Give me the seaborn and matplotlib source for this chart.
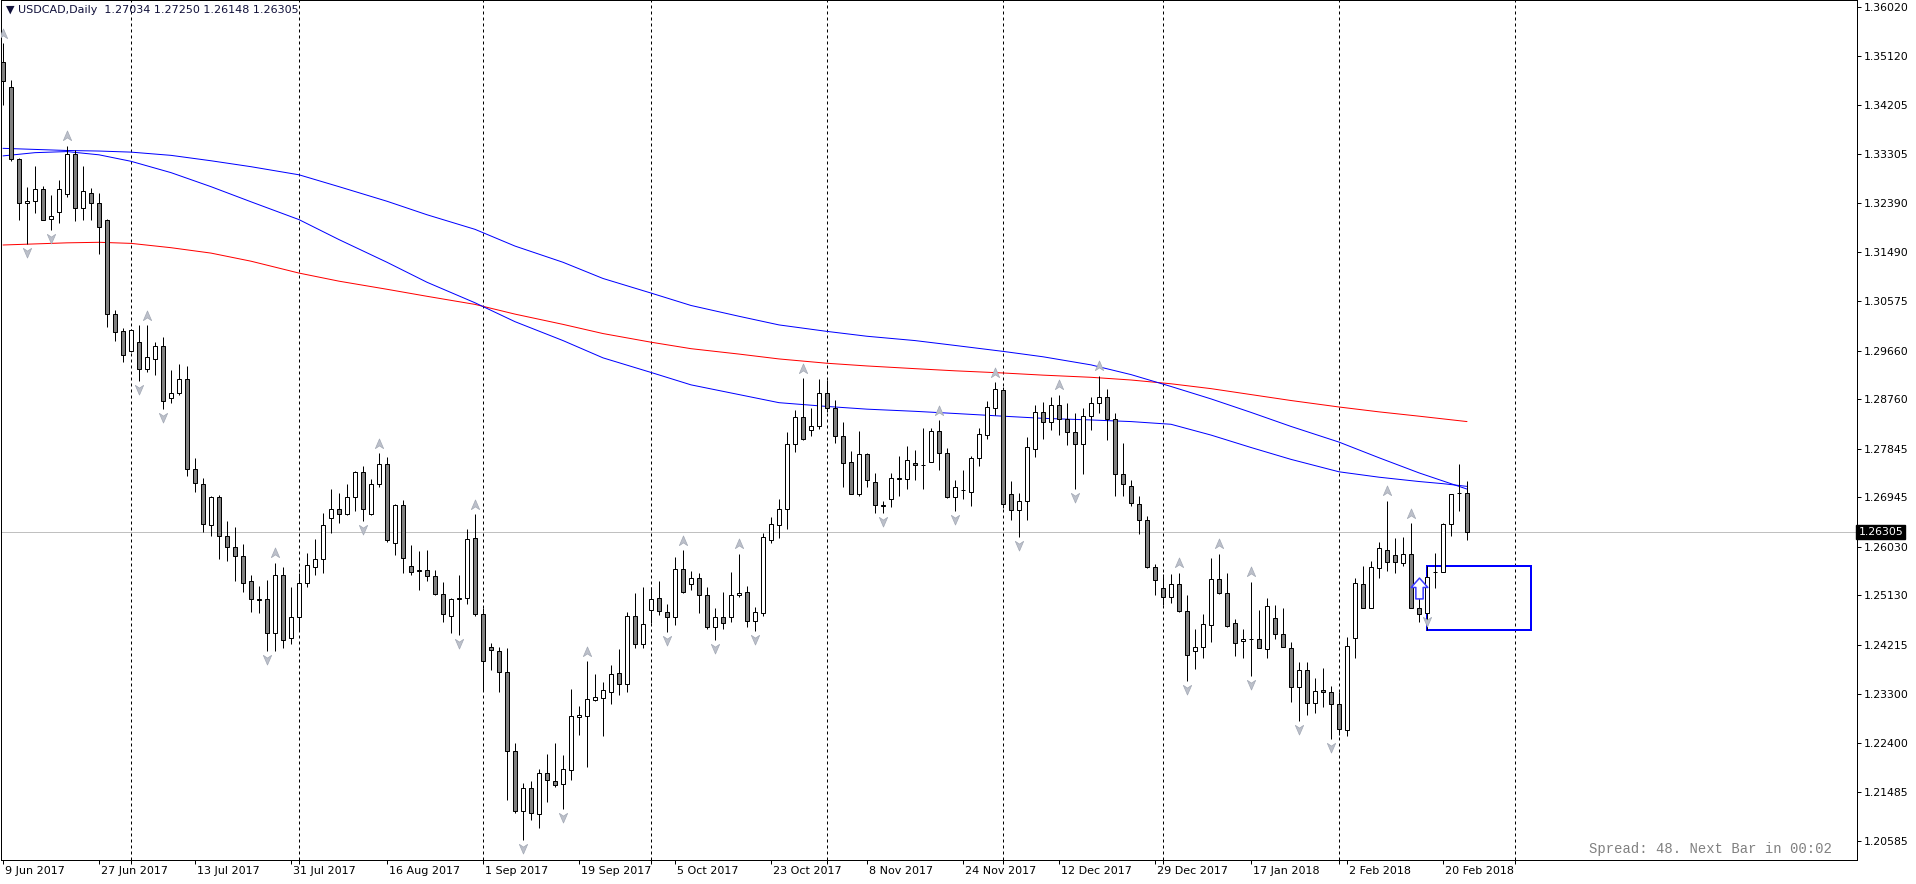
import numpy as np
import pandas as pd
import matplotlib
matplotlib.use("Agg")
import matplotlib.pyplot as plt
import matplotlib.transforms as mtransforms
from matplotlib.path import Path
from matplotlib.patches import Rectangle
import seaborn as sns

# daily USDCAD candles, 9 Jun 2017 -> 23 Feb 2018
opens = [1.3500, 1.3454, 1.3321, 1.3240, 1.3243, 1.3266, 1.3210, 1.3223, 1.3256, 1.3330,
         1.3230, 1.3258, 1.3240, 1.3208, 1.3034, 1.3003, 1.2965, 1.2982, 1.2932, 1.2951,
         1.2975, 1.2879, 1.2888, 1.2913, 1.2748, 1.2720, 1.2643, 1.2695, 1.2624, 1.2602,
         1.2586, 1.2539, 1.2506, 1.2506, 1.2443, 1.2550, 1.2434, 1.2474, 1.2536, 1.2566,
         1.2580, 1.2656, 1.2674, 1.2664, 1.2695, 1.2741, 1.2663, 1.2719, 1.2756, 1.2611,
         1.2680, 1.2568, 1.2559, 1.2561, 1.2549, 1.2516, 1.2475, 1.2507, 1.2508, 1.2620,
         1.2479, 1.2418, 1.2410, 1.2372, 1.2225, 1.2114, 1.2157, 1.2109, 1.2185, 1.2169,
         1.2163, 1.2189, 1.2288, 1.2289, 1.2320, 1.2323, 1.2334, 1.2370, 1.2349, 1.2475,
         1.2423, 1.2486, 1.2508, 1.2483, 1.2473, 1.2562, 1.2534, 1.2545, 1.2513, 1.2455,
         1.2473, 1.2474, 1.2513, 1.2519, 1.2465, 1.2481, 1.2615, 1.2644, 1.2673, 1.2793,
         1.2843, 1.2819, 1.2827, 1.2887, 1.2860, 1.2809, 1.2761, 1.2701, 1.2775, 1.2723,
         1.2679, 1.2692, 1.2729, 1.2729, 1.2759, 1.2755, 1.2761, 1.2818, 1.2777, 1.2695,
         1.2708, 1.2704, 1.2767, 1.2811, 1.2860, 1.2893, 1.2700, 1.2672, 1.2687, 1.2785,
         1.2853, 1.2835, 1.2866, 1.2840, 1.2815, 1.2793, 1.2845, 1.2870, 1.2880, 1.2840,
         1.2737, 1.2715, 1.2682, 1.2653, 1.2566, 1.2527, 1.2510, 1.2534, 1.2484, 1.2411,
         1.2418, 1.2458, 1.2544, 1.2518, 1.2462, 1.2428, 1.2433, 1.2432, 1.2414, 1.2471,
         1.2441, 1.2415, 1.2344, 1.2375, 1.2314, 1.2338, 1.2334, 1.2312, 1.2264, 1.2434,
         1.2534, 1.2489, 1.2563, 1.2597, 1.2588, 1.2573, 1.2589, 1.2489, 1.2480, 1.2556,
         1.2556, 1.2645, 1.2703, 1.27034]
highs = [1.3536, 1.3468, 1.3323, 1.3270, 1.3308, 1.3272, 1.3255, 1.3283, 1.3346, 1.3337,
         1.3308, 1.3268, 1.3258, 1.3210, 1.3042, 1.3008, 1.3007, 1.3013, 1.3013, 1.2983,
         1.2992, 1.2931, 1.2942, 1.2937, 1.2768, 1.2730, 1.2697, 1.2699, 1.2651, 1.2639,
         1.2608, 1.2550, 1.2531, 1.2542, 1.2574, 1.2565, 1.2529, 1.2555, 1.2591, 1.2618,
         1.2665, 1.2711, 1.2702, 1.2719, 1.2743, 1.2752, 1.2728, 1.2776, 1.2769, 1.2682,
         1.2690, 1.2607, 1.2595, 1.2598, 1.2561, 1.2538, 1.2508, 1.2550, 1.2636, 1.2663,
         1.2490, 1.2425, 1.2418, 1.2415, 1.2240, 1.2166, 1.2170, 1.2191, 1.2220, 1.2239,
         1.2218, 1.2339, 1.2309, 1.2391, 1.2368, 1.2352, 1.2385, 1.2413, 1.2483, 1.2517,
         1.2529, 1.2529, 1.2539, 1.2497, 1.2584, 1.2597, 1.2558, 1.2554, 1.2528, 1.2489,
         1.2519, 1.2556, 1.2590, 1.2531, 1.2492, 1.2628, 1.2658, 1.2691, 1.2815, 1.2856,
         1.2915, 1.2860, 1.2913, 1.2912, 1.2875, 1.2834, 1.2780, 1.2818, 1.2777, 1.2740,
         1.2687, 1.2740, 1.2772, 1.2789, 1.2783, 1.2823, 1.2824, 1.2837, 1.2786, 1.2727,
         1.2746, 1.2771, 1.2823, 1.2874, 1.2908, 1.2899, 1.2725, 1.2703, 1.2806, 1.2865,
         1.2872, 1.2880, 1.2885, 1.2870, 1.2850, 1.2860, 1.2880, 1.2920, 1.2895, 1.2850,
         1.2795, 1.2727, 1.2697, 1.2661, 1.2571, 1.2552, 1.2553, 1.2555, 1.2513, 1.2450,
         1.2478, 1.2582, 1.2590, 1.2555, 1.2470, 1.2451, 1.2538, 1.2486, 1.2508, 1.2496,
         1.2489, 1.2427, 1.2389, 1.2389, 1.2360, 1.2378, 1.2346, 1.2334, 1.2436, 1.2545,
         1.2567, 1.2576, 1.2612, 1.2688, 1.2620, 1.2622, 1.2647, 1.2508, 1.2568, 1.2591,
         1.2647, 1.2700, 1.2757, 1.27250]
lows = [1.3422, 1.3317, 1.3209, 1.3164, 1.3222, 1.3208, 1.3189, 1.3203, 1.3251, 1.3206,
        1.3208, 1.3209, 1.3145, 1.3011, 1.2984, 1.2945, 1.2963, 1.2910, 1.2926, 1.2922,
        1.2858, 1.2869, 1.2884, 1.2735, 1.2705, 1.2630, 1.2624, 1.2580, 1.2576, 1.2539,
        1.2520, 1.2482, 1.2480, 1.2411, 1.2411, 1.2416, 1.2424, 1.2449, 1.2529, 1.2551,
        1.2554, 1.2628, 1.2648, 1.2662, 1.2670, 1.2650, 1.2662, 1.2713, 1.2612, 1.2587,
        1.2555, 1.2551, 1.2523, 1.2539, 1.2513, 1.2463, 1.2444, 1.2439, 1.2497, 1.2475,
        1.2338, 1.2375, 1.2334, 1.2134, 1.2110, 1.2061, 1.2097, 1.2083, 1.2130, 1.2158,
        1.2118, 1.2171, 1.2254, 1.2195, 1.2318, 1.2252, 1.2312, 1.2328, 1.2335, 1.2415,
        1.2415, 1.2462, 1.2477, 1.2446, 1.2459, 1.2518, 1.2523, 1.2481, 1.2450, 1.2431,
        1.2450, 1.2463, 1.2511, 1.2455, 1.2448, 1.2475, 1.2611, 1.2620, 1.2636, 1.2779,
        1.2801, 1.2809, 1.2821, 1.2853, 1.2796, 1.2713, 1.2700, 1.2698, 1.2713, 1.2666,
        1.2666, 1.2676, 1.2698, 1.2711, 1.2726, 1.2711, 1.2760, 1.2746, 1.2693, 1.2670,
        1.2692, 1.2678, 1.2752, 1.2803, 1.2848, 1.2675, 1.2653, 1.2622, 1.2652, 1.2770,
        1.2803, 1.2820, 1.2810, 1.2791, 1.2710, 1.2738, 1.2820, 1.2850, 1.2800, 1.2697,
        1.2697, 1.2679, 1.2626, 1.2564, 1.2513, 1.2496, 1.2499, 1.2482, 1.2354, 1.2377,
        1.2397, 1.2426, 1.2515, 1.2455, 1.2400, 1.2397, 1.2363, 1.2415, 1.2398, 1.2433,
        1.2417, 1.2315, 1.2280, 1.2291, 1.2296, 1.2307, 1.2247, 1.2255, 1.2253, 1.2397,
        1.2489, 1.2489, 1.2545, 1.2559, 1.2554, 1.2567, 1.2489, 1.2463, 1.2480, 1.2526,
        1.2556, 1.2624, 1.2670, 1.26148]
closes = [1.3465, 1.3321, 1.3240, 1.3244, 1.3266, 1.3208, 1.3216, 1.3266, 1.3330, 1.3230,
          1.3262, 1.3240, 1.3195, 1.3034, 1.3001, 1.2959, 1.3005, 1.2932, 1.2955, 1.2975,
          1.2873, 1.2888, 1.2913, 1.2748, 1.2722, 1.2645, 1.2695, 1.2624, 1.2602, 1.2586,
          1.2536, 1.2506, 1.2505, 1.2443, 1.2550, 1.2430, 1.2474, 1.2536, 1.2569, 1.2580,
          1.2643, 1.2674, 1.2664, 1.2695, 1.2742, 1.2673, 1.2719, 1.2756, 1.2616, 1.2680,
          1.2582, 1.2556, 1.2561, 1.2549, 1.2516, 1.2479, 1.2507, 1.2508, 1.2618, 1.2478,
          1.2392, 1.2412, 1.2371, 1.2225, 1.2114, 1.2157, 1.2111, 1.2185, 1.2172, 1.2162,
          1.2191, 1.2289, 1.2292, 1.2321, 1.2325, 1.2337, 1.2368, 1.2349, 1.2475, 1.2423,
          1.2460, 1.2506, 1.2485, 1.2473, 1.2562, 1.2519, 1.2545, 1.2513, 1.2455, 1.2473,
          1.2462, 1.2513, 1.2518, 1.2465, 1.2483, 1.2622, 1.2645, 1.2673, 1.2793, 1.2843,
          1.2803, 1.2826, 1.2887, 1.2860, 1.2809, 1.2759, 1.2701, 1.2775, 1.2726, 1.2680,
          1.2680, 1.2730, 1.2730, 1.2763, 1.2755, 1.2755, 1.2818, 1.2777, 1.2695, 1.2714,
          1.2708, 1.2767, 1.2812, 1.2862, 1.2895, 1.2683, 1.2672, 1.2687, 1.2788, 1.2853,
          1.2835, 1.2866, 1.2840, 1.2815, 1.2793, 1.2845, 1.2870, 1.2880, 1.2840, 1.2737,
          1.2719, 1.2684, 1.2653, 1.2565, 1.2542, 1.2510, 1.2534, 1.2484, 1.2402, 1.2417,
          1.2460, 1.2544, 1.2518, 1.2456, 1.2425, 1.2433, 1.2433, 1.2415, 1.2494, 1.2441,
          1.2417, 1.2343, 1.2375, 1.2314, 1.2336, 1.2334, 1.2312, 1.2265, 1.2420, 1.2536,
          1.2489, 1.2565, 1.2600, 1.2575, 1.2575, 1.2589, 1.2489, 1.2479, 1.2547, 1.2557,
          1.2645, 1.2700, 1.2702, 1.26305]

# moving averages at these bars
ma_bars = [0, 4, 8, 12, 16, 21, 26, 31, 37, 42, 48, 53, 59, 64, 70, 75, 81, 86, 92, 97,
           103, 108, 114, 119, 125, 130, 136, 141, 146, 151, 156, 161, 167, 172, 177, 180, 183]
ma_blue_slow = [1.3341, 1.3339, 1.3337, 1.3336, 1.3334, 1.3328, 1.3318, 1.3307, 1.3292, 1.3270,
                1.3243, 1.3218, 1.3191, 1.3160, 1.3130, 1.3100, 1.3073, 1.3050, 1.3030, 1.3014,
                1.3002, 1.2993, 1.2985, 1.2976, 1.2965, 1.2955, 1.2940, 1.2922, 1.2900, 1.2877,
                1.2852, 1.2826, 1.2797, 1.2768, 1.2740, 1.2725, 1.2710]
ma_blue_fast = [1.3327, 1.3333, 1.3335, 1.3329, 1.3317, 1.3296, 1.3270, 1.3242, 1.3209, 1.3172,
                1.3130, 1.3093, 1.3055, 1.3020, 1.2985, 1.2953, 1.2926, 1.2903, 1.2885, 1.2870,
                1.2863, 1.2858, 1.2854, 1.2850, 1.2845, 1.2841, 1.2838, 1.2835, 1.2830, 1.2810,
                1.2787, 1.2765, 1.2742, 1.2732, 1.2724, 1.2720, 1.2715]
ma_red = [1.3162, 1.3164, 1.3166, 1.3167, 1.3165, 1.3157, 1.3147, 1.3132, 1.3110, 1.3095,
          1.3080, 1.3067, 1.3052, 1.3034, 1.3015, 1.2998, 1.2982, 1.2970, 1.2960, 1.2951,
          1.2943, 1.2938, 1.2933, 1.2929, 1.2925, 1.2921, 1.2917, 1.2912, 1.2905, 1.2896,
          1.2885, 1.2874, 1.2862, 1.2853, 1.2845, 1.2840, 1.2835]

# fractal arrows (bar indices)
fractal_up = [0, 8, 18, 34, 47, 59, 73, 85, 92, 100, 117, 124, 132, 137, 147, 152, 156, 173, 176]
fractal_down = [3, 6, 17, 20, 33, 45, 57, 65, 70, 83, 89, 94, 110, 119, 127, 134, 148, 156,
                162, 166, 178]

price_ticks = [1.36020, 1.35120, 1.34205, 1.33305, 1.32390, 1.31490, 1.30575, 1.29660,
               1.28760, 1.27845, 1.26945, 1.26030, 1.25130, 1.24215, 1.23300, 1.22400,
               1.21485, 1.20585]
last_price = 1.26305

# signal arrow + box drawn on the chart
signal_bar, signal_price = 177, 1.2527
box_start, box_end = 178, 191
box_low, box_high = 1.2449, 1.2568

# trading calendar (broker closed on 25 Dec and 1 Jan)
dates = pd.bdate_range("2017-06-09", "2018-02-23")
dates = dates[~dates.isin(pd.to_datetime(["2017-12-25", "2018-01-01"]))]
n = len(opens)
label_bars = list(range(0, n, 12))
month_bars = [i for i in range(1, n) if dates[i].month != dates[i - 1].month]
month_bars.append(189)  # next month, beyond last bar

sns.set_style("white")
plt.rcParams["font.family"] = ["DejaVu Sans"]

W, H = 1916, 884
fig = plt.figure(figsize=(W / 100, H / 100), dpi=100)
ax = fig.add_axes([0.5 / W, 24 / H, 1856 / W, 860 / H])
px = 0.72  # one pixel in points

o = np.array(opens); h = np.array(highs); l = np.array(lows); c = np.array(closes)
x = np.arange(n)
bull = c >= o

ax.axhline(last_price, color="#c0c0c0", lw=px, zorder=1)
for b in month_bars:
    ax.axvline(b, color="black", lw=px, ls=(0, (3, 3)), zorder=1)

ax.add_patch(Rectangle((box_start, box_low), box_end - box_start, box_high - box_low,
                       fill=False, ec="#0000ff", lw=2 * px, zorder=1.5))

sns.lineplot(x=ma_bars, y=ma_red, color="#ff0000", lw=px, ax=ax, zorder=2)
sns.lineplot(x=ma_bars, y=ma_blue_slow, color="#0000ff", lw=px, ax=ax, zorder=2)
sns.lineplot(x=ma_bars, y=ma_blue_fast, color="#0000ff", lw=px, ax=ax, zorder=2)

ax.vlines(x, l, h, color="black", lw=px, zorder=3)
ax.vlines(box_start, box_low, box_high, color="black", lw=px, zorder=3)
body_lo = np.minimum(o, c)
body_h = np.maximum(np.abs(c - o), 0.00002)
ax.bar(x, body_h, bottom=body_lo, width=0.6,
       color=np.where(bull, "white", "#808080"), edgecolor="black", linewidth=px, zorder=4)

# fractal arrowheads
up_path = Path([(0, 1), (0.75, -0.75), (0, -0.25), (-0.75, -0.75), (0, 1)],
               [Path.MOVETO, Path.LINETO, Path.LINETO, Path.LINETO, Path.CLOSEPOLY])
down_path = Path([(0, -1), (0.75, 0.75), (0, 0.25), (-0.75, 0.75), (0, -1)],
                 [Path.MOVETO, Path.LINETO, Path.LINETO, Path.LINETO, Path.CLOSEPOLY])
up_tr = mtransforms.offset_copy(ax.transData, fig=fig, x=0, y=9.5, units="dots")
dn_tr = mtransforms.offset_copy(ax.transData, fig=fig, x=0, y=-8, units="dots")
ax.plot(fractal_up, h[fractal_up], ls="none", marker=up_path, ms=8,
        mfc="#bcc0ca", mec="#a2a8b4", mew=0.5, transform=up_tr, zorder=5)
ax.plot(fractal_down, l[fractal_down], ls="none", marker=down_path, ms=8,
        mfc="#bcc0ca", mec="#a2a8b4", mew=0.5, transform=dn_tr, zorder=5)

arrow_path = Path([(0, 1), (0.8, 0.1), (0.35, 0.1), (0.35, -1), (-0.35, -1), (-0.35, 0.1),
                   (-0.8, 0.1), (0, 1)],
                  [Path.MOVETO] + [Path.LINETO] * 6 + [Path.CLOSEPOLY])
ax.plot([signal_bar], [signal_price], ls="none", marker=arrow_path, ms=15,
        mfc="white", mec="#3b3bff", mew=1.1, zorder=6)

# axes
ax.set_xlim(-2.5 / 8, (1856 - 2.5) / 8)
ax.set_ylim(1.20231, 1.36157)
for s in ax.spines.values():
    s.set_color("black")
    s.set_linewidth(px)
    s.set_visible(True)

ax.yaxis.tick_right()
ax.set_yticks(price_ticks)
ax.set_yticklabels([f"{p:.5f}" for p in price_ticks])
ax.tick_params(axis="y", direction="out", length=3, width=px, pad=2.5,
               labelsize=7.8, colors="black", right=True, left=False)

ax.set_xticks(label_bars)
ax.set_xticklabels([f"{dates[i].day} {dates[i]:%b %Y}" for i in label_bars],
                   ha="left")
ax.set_xticks(month_bars, minor=True)
ax.tick_params(axis="x", which="both", direction="out", length=3, width=px, pad=1.5,
               labelsize=8, colors="black", bottom=True)
shift = mtransforms.ScaledTranslation(2 / 100, 0, fig.dpi_scale_trans)
for lab in ax.get_xticklabels():
    lab.set_transform(lab.get_transform() + shift)

# current price tag
ax.text(1.0 + 2 / 1856, last_price, f"{last_price:.5f}", transform=ax.get_yaxis_transform(),
        ha="left", va="center", fontsize=7.8, color="white", zorder=10, clip_on=False,
        bbox=dict(boxstyle="square,pad=0.2", fc="black", ec="black"))

ax.text(5 / 1856, 1 - 10 / 860, "\u25bc USDCAD,Daily  1.27034 1.27250 1.26148 1.26305",
        transform=ax.transAxes, ha="left", va="center", fontsize=8, color="#10103a", zorder=10)
ax.text(1 - 25 / 1856, 11 / 860, "Spread: 48. Next Bar in 00:02",
        transform=ax.transAxes, ha="right", va="center", fontsize=10, color="#808080",
        family=["Liberation Mono", "DejaVu Sans Mono"], zorder=10)

fig.savefig("out.png", dpi=100, facecolor="white")
